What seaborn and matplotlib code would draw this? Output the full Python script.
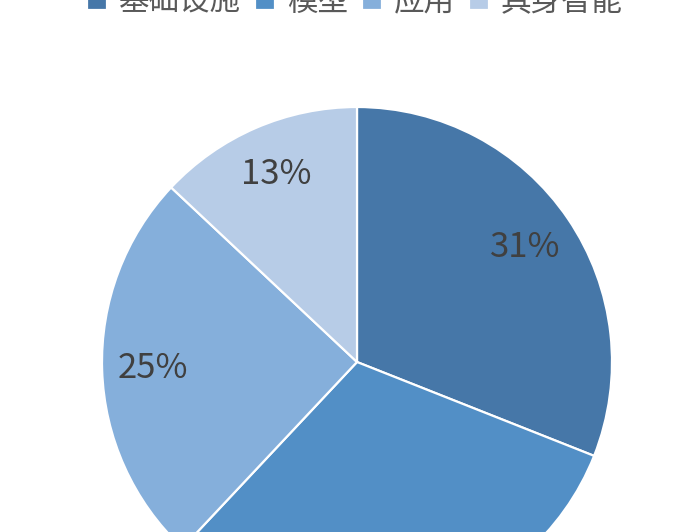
import matplotlib
matplotlib.use("Agg")
import matplotlib.pyplot as plt
import seaborn as sns

# 数据
labels = ["基础设施", "模型", "应用", "具身智能"]
shares = [31, 31, 25, 13]
colors = ["#4677A8", "#528FC6", "#85AFDB", "#B7CCE7"]

sns.set_theme(style="white")
plt.rcParams['font.family'] = ['Noto Sans CJK SC', 'DejaVu Sans']

W, H = 694, 532
fig = plt.figure(figsize=(W / 100, H / 100), dpi=100)

# pie center (357, 362) px from top, radius 255 px
cx, cy, r = 357, H - 362, 255
ax = fig.add_axes([(cx - r) / W, (cy - r) / H, 2 * r / W, 2 * r / H])

palette = sns.color_palette(colors)
wedges, texts, autotexts = ax.pie(
    shares,
    colors=palette,
    startangle=90,
    counterclock=False,
    radius=1,
    autopct=lambda p: f"{p:.0f}%",
    pctdistance=0.8,
    wedgeprops=dict(edgecolor="white", linewidth=1.6),
    textprops=dict(fontsize=25, color="#404040"),
)
ax.set_xlim(-1, 1)
ax.set_ylim(-1, 1)
ax.set_aspect("auto")
ax.axis("off")

fig.legend(
    wedges, labels,
    loc="center",
    bbox_to_anchor=(355 / W, 1.0 - 2 / H),
    ncol=4,
    frameon=False,
    fontsize=22,
    handlelength=0.65,
    handleheight=0.65,
    handletextpad=0.4,
    columnspacing=0.45,
    labelcolor="#595959",
)

fig.savefig("out.png", dpi=100)
